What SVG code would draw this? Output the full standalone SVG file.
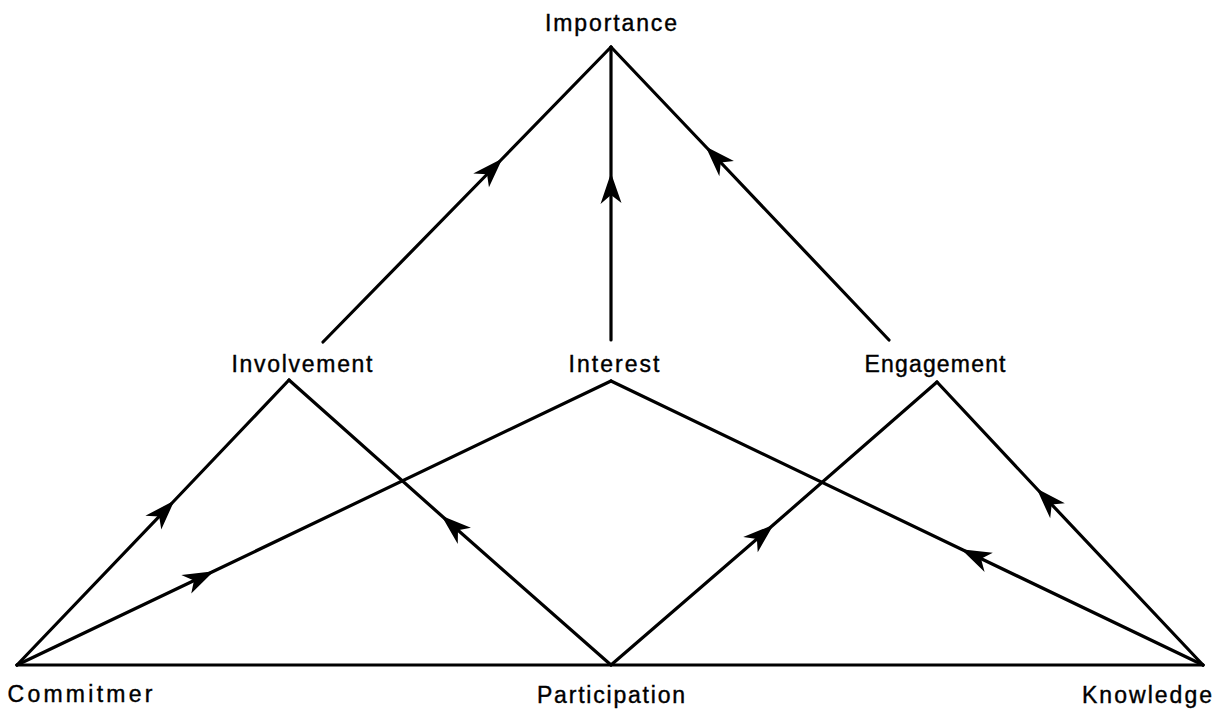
<svg xmlns="http://www.w3.org/2000/svg" width="1223" height="712" viewBox="0 0 1223 712">
<style>
.c{fill:none;stroke:#000;stroke-width:3.2;stroke-linecap:round;stroke-linejoin:round}
.a{marker-mid:url(#ah)}
text{font-family:"Liberation Sans",Arial,sans-serif;font-size:23px;fill:#000;text-anchor:middle;stroke:#000;stroke-width:0.4}
</style>
<defs>
<marker id="ah" markerUnits="userSpaceOnUse" viewBox="-32 -12 34 24" refX="0" refY="0" markerWidth="34" markerHeight="24" orient="auto">
<path d="M2,0 L-29,-10.5 L-20,0 L-28,10.5 Z" fill="#000"/>
</marker>
</defs>
<rect width="1223" height="712" fill="#fff"/>
<g id="connectors">
<path class="c a" d="M323,342 L501,160 L611,47"/>
<path class="c a" d="M611,340 L611,175 L611,47"/>
<path class="c a" d="M889,340 L707,148 L611,47"/>
<path class="c a" d="M17,665 L173,502 L289,380"/>
<path class="c a" d="M17,665 L212,572 L611,381"/>
<path class="c a" d="M611,665 L443,517 L289,380"/>
<path class="c a" d="M611,665 L772,526 L937,382"/>
<path class="c a" d="M1203,665 L1038,490 L937,382"/>
<path class="c a" d="M1203,665 L963,550 L611,381"/>
<path class="c" d="M17,665 L1203,665"/>
</g>
<g id="importance"><text x="611" y="31" textLength="132" lengthAdjust="spacing">Importance</text></g>
<g id="involvement"><text x="302" y="372" textLength="141" lengthAdjust="spacing">Involvement</text></g>
<g id="interest"><text x="614" y="372" textLength="91" lengthAdjust="spacing">Interest</text></g>
<g id="engagement"><text x="935" y="372" textLength="141" lengthAdjust="spacing">Engagement</text></g>
<g id="commitment"><text x="80" y="702" textLength="145" lengthAdjust="spacing">Commitmer</text></g>
<g id="participation"><text x="611" y="703" textLength="148" lengthAdjust="spacing">Participation</text></g>
<g id="knowledge"><text x="1147" y="703" textLength="130" lengthAdjust="spacing">Knowledge</text></g>
</svg>
